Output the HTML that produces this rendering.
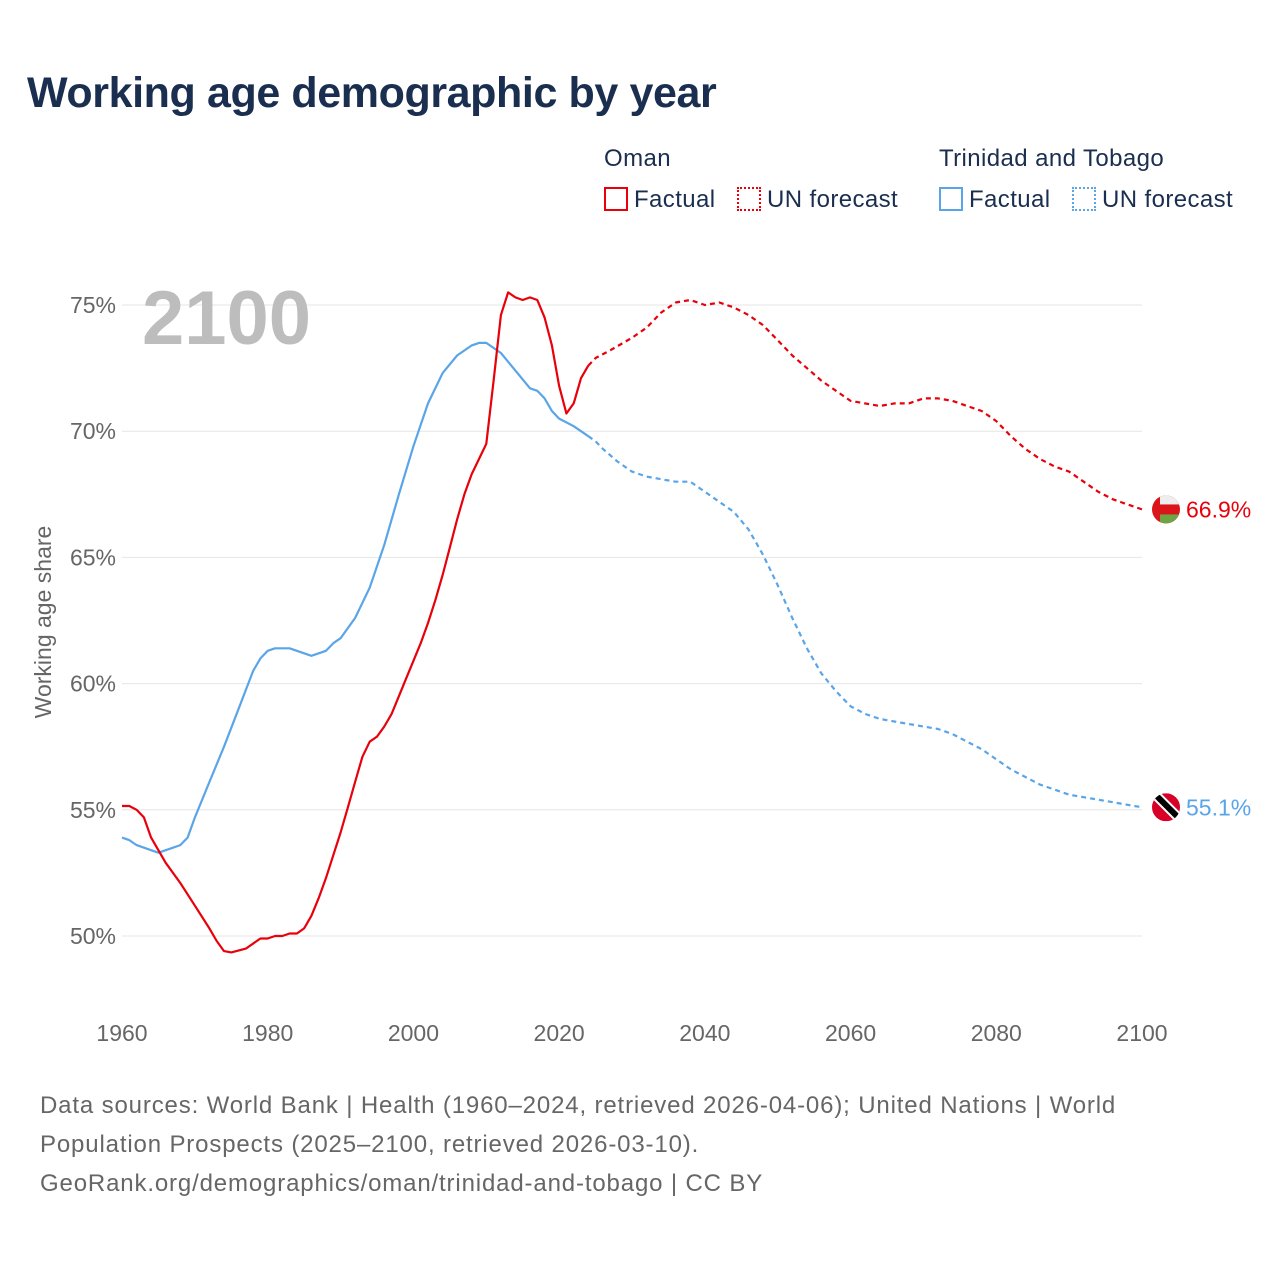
<!DOCTYPE html>
<html><head><meta charset="utf-8"><style>
body{margin:0;background:#fff;font-family:"Liberation Sans",sans-serif;}
#wrap{position:relative;width:1280px;height:1280px;overflow:hidden}
.t{position:absolute;white-space:nowrap}
</style></head><body><div id="wrap">
<div class="t" style="left:27px;top:69px;font-size:43px;letter-spacing:-0.4px;font-weight:bold;color:#1a2e4f">Working age demographic by year</div>
<div class="t" style="left:604px;top:145px;font-size:24px;letter-spacing:0.4px;color:#1a2e4f">Oman</div>
<div class="t" style="left:939px;top:145px;font-size:24px;letter-spacing:0.4px;color:#1a2e4f">Trinidad and Tobago</div>
<div class="t" style="left:604px;top:186px;font-size:24px;letter-spacing:0.4px;color:#1a2e4f"><span style="display:inline-block;width:24px;height:24px;border:2px solid #e8000b;vertical-align:-4px;margin-right:6px;box-sizing:border-box"></span>Factual</div>
<div class="t" style="left:737px;top:186px;font-size:24px;letter-spacing:0.4px;color:#1a2e4f"><span style="display:inline-block;width:24px;height:24px;border:2px dotted #e8000b;vertical-align:-4px;margin-right:6px;box-sizing:border-box"></span>UN forecast</div>
<div class="t" style="left:939px;top:186px;font-size:24px;letter-spacing:0.4px;color:#1a2e4f"><span style="display:inline-block;width:24px;height:24px;border:2px solid #5aa5e8;vertical-align:-4px;margin-right:6px;box-sizing:border-box"></span>Factual</div>
<div class="t" style="left:1072px;top:186px;font-size:24px;letter-spacing:0.4px;color:#1a2e4f"><span style="display:inline-block;width:24px;height:24px;border:2px dotted #5aa5e8;vertical-align:-4px;margin-right:6px;box-sizing:border-box"></span>UN forecast</div>
<svg id="chart" width="1280" height="1280" style="position:absolute;left:0;top:0"></svg>
<div class="t" style="left:40px;top:1086px;font-size:24px;letter-spacing:0.85px;line-height:39px;color:#666">Data sources: World Bank | Health (1960–2024, retrieved 2026-04-06); United Nations | World<br>Population Prospects (2025–2100, retrieved 2026-03-10).<br>GeoRank.org/demographics/oman/trinidad-and-tobago | CC BY</div>
</div>
<script>
const omanFactYears=[1960,1961,1962,1963,1964,1966,1968,1970,1972,1973,1974,1975,1977,1979,1980,1981,1982,1983,1984,1985,1986,1987,1988,1989,1990,1991,1992,1993,1994,1995,1996,1997,1998,1999,2000,2001,2002,2003,2004,2005,2006,2007,2008,2009,2010,2011,2012,2013,2014,2015,2016,2017,2018,2019,2020,2021,2022,2023,2024];
const omanFactValues=[55.15,55.15,55.0,54.7,53.9,52.9,52.1,51.2,50.3,49.8,49.4,49.35,49.5,49.9,49.9,50.0,50.0,50.1,50.1,50.3,50.8,51.5,52.3,53.2,54.1,55.1,56.1,57.1,57.7,57.9,58.3,58.8,59.5,60.2,60.9,61.6,62.4,63.3,64.3,65.4,66.5,67.5,68.3,68.9,69.5,72.0,74.6,75.5,75.3,75.2,75.3,75.2,74.5,73.4,71.8,70.7,71.1,72.1,72.6];
const omanFcYears=[2024,2025,2027,2030,2032,2034,2036,2038,2040,2042,2044,2046,2048,2050,2052,2054,2056,2058,2060,2062,2064,2066,2068,2070,2072,2074,2076,2078,2080,2082,2084,2086,2088,2090,2092,2094,2096,2098,2100];
const omanFcValues=[72.6,72.9,73.2,73.7,74.1,74.7,75.1,75.2,75.0,75.1,74.9,74.6,74.2,73.6,73.0,72.5,72.0,71.6,71.2,71.1,71.0,71.1,71.1,71.3,71.3,71.2,71.0,70.8,70.4,69.8,69.3,68.9,68.6,68.4,68.0,67.6,67.3,67.1,66.9];
const ttFactYears=[1960,1961,1962,1964,1965,1967,1968,1969,1970,1972,1974,1976,1978,1979,1980,1981,1983,1985,1986,1988,1989,1990,1992,1994,1996,1998,2000,2002,2004,2006,2008,2009,2010,2012,2014,2016,2017,2018,2019,2020,2022,2024];
const ttFactValues=[53.9,53.8,53.6,53.4,53.3,53.5,53.6,53.9,54.7,56.1,57.5,59.0,60.5,61.0,61.3,61.4,61.4,61.2,61.1,61.3,61.6,61.8,62.6,63.8,65.5,67.5,69.4,71.1,72.3,73.0,73.4,73.5,73.5,73.1,72.4,71.7,71.6,71.3,70.8,70.5,70.2,69.8];
const ttFcYears=[2024,2025,2026,2028,2030,2032,2034,2036,2038,2040,2042,2044,2046,2048,2050,2052,2054,2056,2058,2060,2062,2064,2066,2068,2070,2072,2074,2076,2078,2080,2082,2084,2086,2088,2090,2092,2094,2096,2098,2100];
const ttFcValues=[69.8,69.6,69.3,68.8,68.4,68.2,68.1,68.0,68.0,67.6,67.2,66.8,66.1,65.1,63.9,62.6,61.4,60.4,59.7,59.1,58.8,58.6,58.5,58.4,58.3,58.2,58.0,57.7,57.4,57.0,56.6,56.3,56.0,55.8,55.6,55.5,55.4,55.3,55.2,55.1];
const yTicks=[50,55,60,65,70,75];
const xTicks=[1960,1980,2000,2020,2040,2060,2080,2100];
const endLabels=["66.9%","55.1%"];

const NS="http://www.w3.org/2000/svg";
const svg=document.getElementById('chart');
const X=y=>122+(y-1960)*(1020/140);
const Y=v=>936-(v-50)*(631/25);
function mk(t,a,p){const e=document.createElementNS(NS,t);for(const k in a)e.setAttribute(k,a[k]);(p||svg).appendChild(e);return e;}
yTicks.forEach(v=>{
  const l=mk('line',{x1:122,x2:1142,y1:Y(v),y2:Y(v),stroke:'#e6e6e6','stroke-width':1});
  
  
  const t=mk('text',{x:116,y:Y(v)+8,'text-anchor':'end','font-size':23,fill:'#666'});
  t.textContent=v+'%';
  
  
});
xTicks.forEach(v=>{
  const t=mk('text',{x:X(v),y:1041,'text-anchor':'middle','font-size':23,fill:'#666'});
  t.textContent=v;
  
  
});
const yt=mk('text',{x:0,y:0,transform:'translate(51,622) rotate(-90)','text-anchor':'middle','font-size':23,fill:'#666'});
yt.textContent='Working age share';


const yr=mk('text',{x:142,y:344,'font-size':76,'font-weight':'bold',fill:'#bdbdbd'});
yr.textContent='2100';


function line(xs,vs,color,dash,name){
  const d=xs.map((x,i)=>(i?'L':'M')+X(x).toFixed(1)+' '+Y(vs[i]).toFixed(1)).join(' ');
  const p=mk('path',{d:d,fill:'none',stroke:color,'stroke-width':2.2,'stroke-dasharray':dash||'none','stroke-linejoin':'round'});
  
  
}
line(ttFactYears,ttFactValues,'#5aa5e8','', 'tt-factual-line');
line(ttFcYears,ttFcValues,'#5aa5e8','5 4','tt-forecast-line');
line(omanFactYears,omanFactValues,'#e8000b','','oman-factual-line');
line(omanFcYears,omanFcValues,'#e8000b','5 4','oman-forecast-line');
const defs=mk('defs',{});
const oy=Y(omanFcValues[omanFcValues.length-1]), ty=Y(ttFcValues[ttFcValues.length-1]);
const c1=mk('clipPath',{id:'c1'},defs);mk('circle',{cx:1166,cy:oy,r:14},c1);
const c2=mk('clipPath',{id:'c2'},defs);mk('circle',{cx:1166,cy:ty,r:14},c2);
const g1=mk('g',{'clip-path':'url(#c1)'});


mk('rect',{x:1152,y:oy-14,width:28,height:28,fill:'#db161b'},g1);
mk('rect',{x:1160,y:oy-14,width:20,height:9,fill:'#eeeeee'},g1);
mk('rect',{x:1160,y:oy+5,width:20,height:9,fill:'#6da544'},g1);
const g2=mk('g',{'clip-path':'url(#c2)'});


mk('rect',{x:1152,y:ty-14,width:28,height:28,fill:'#d80027'},g2);
mk('line',{x1:1154,y1:ty-14,x2:1180,y2:ty+12,stroke:'#fff','stroke-width':10},g2);
mk('line',{x1:1154,y1:ty-14,x2:1180,y2:ty+12,stroke:'#000','stroke-width':6},g2);
const l1=mk('text',{x:1186,y:oy+8,'font-size':23,fill:'#e8000b'});l1.textContent=endLabels[0];


const l2=mk('text',{x:1186,y:ty+8,'font-size':23,fill:'#5aa5e8'});l2.textContent=endLabels[1];


</script></body></html>
